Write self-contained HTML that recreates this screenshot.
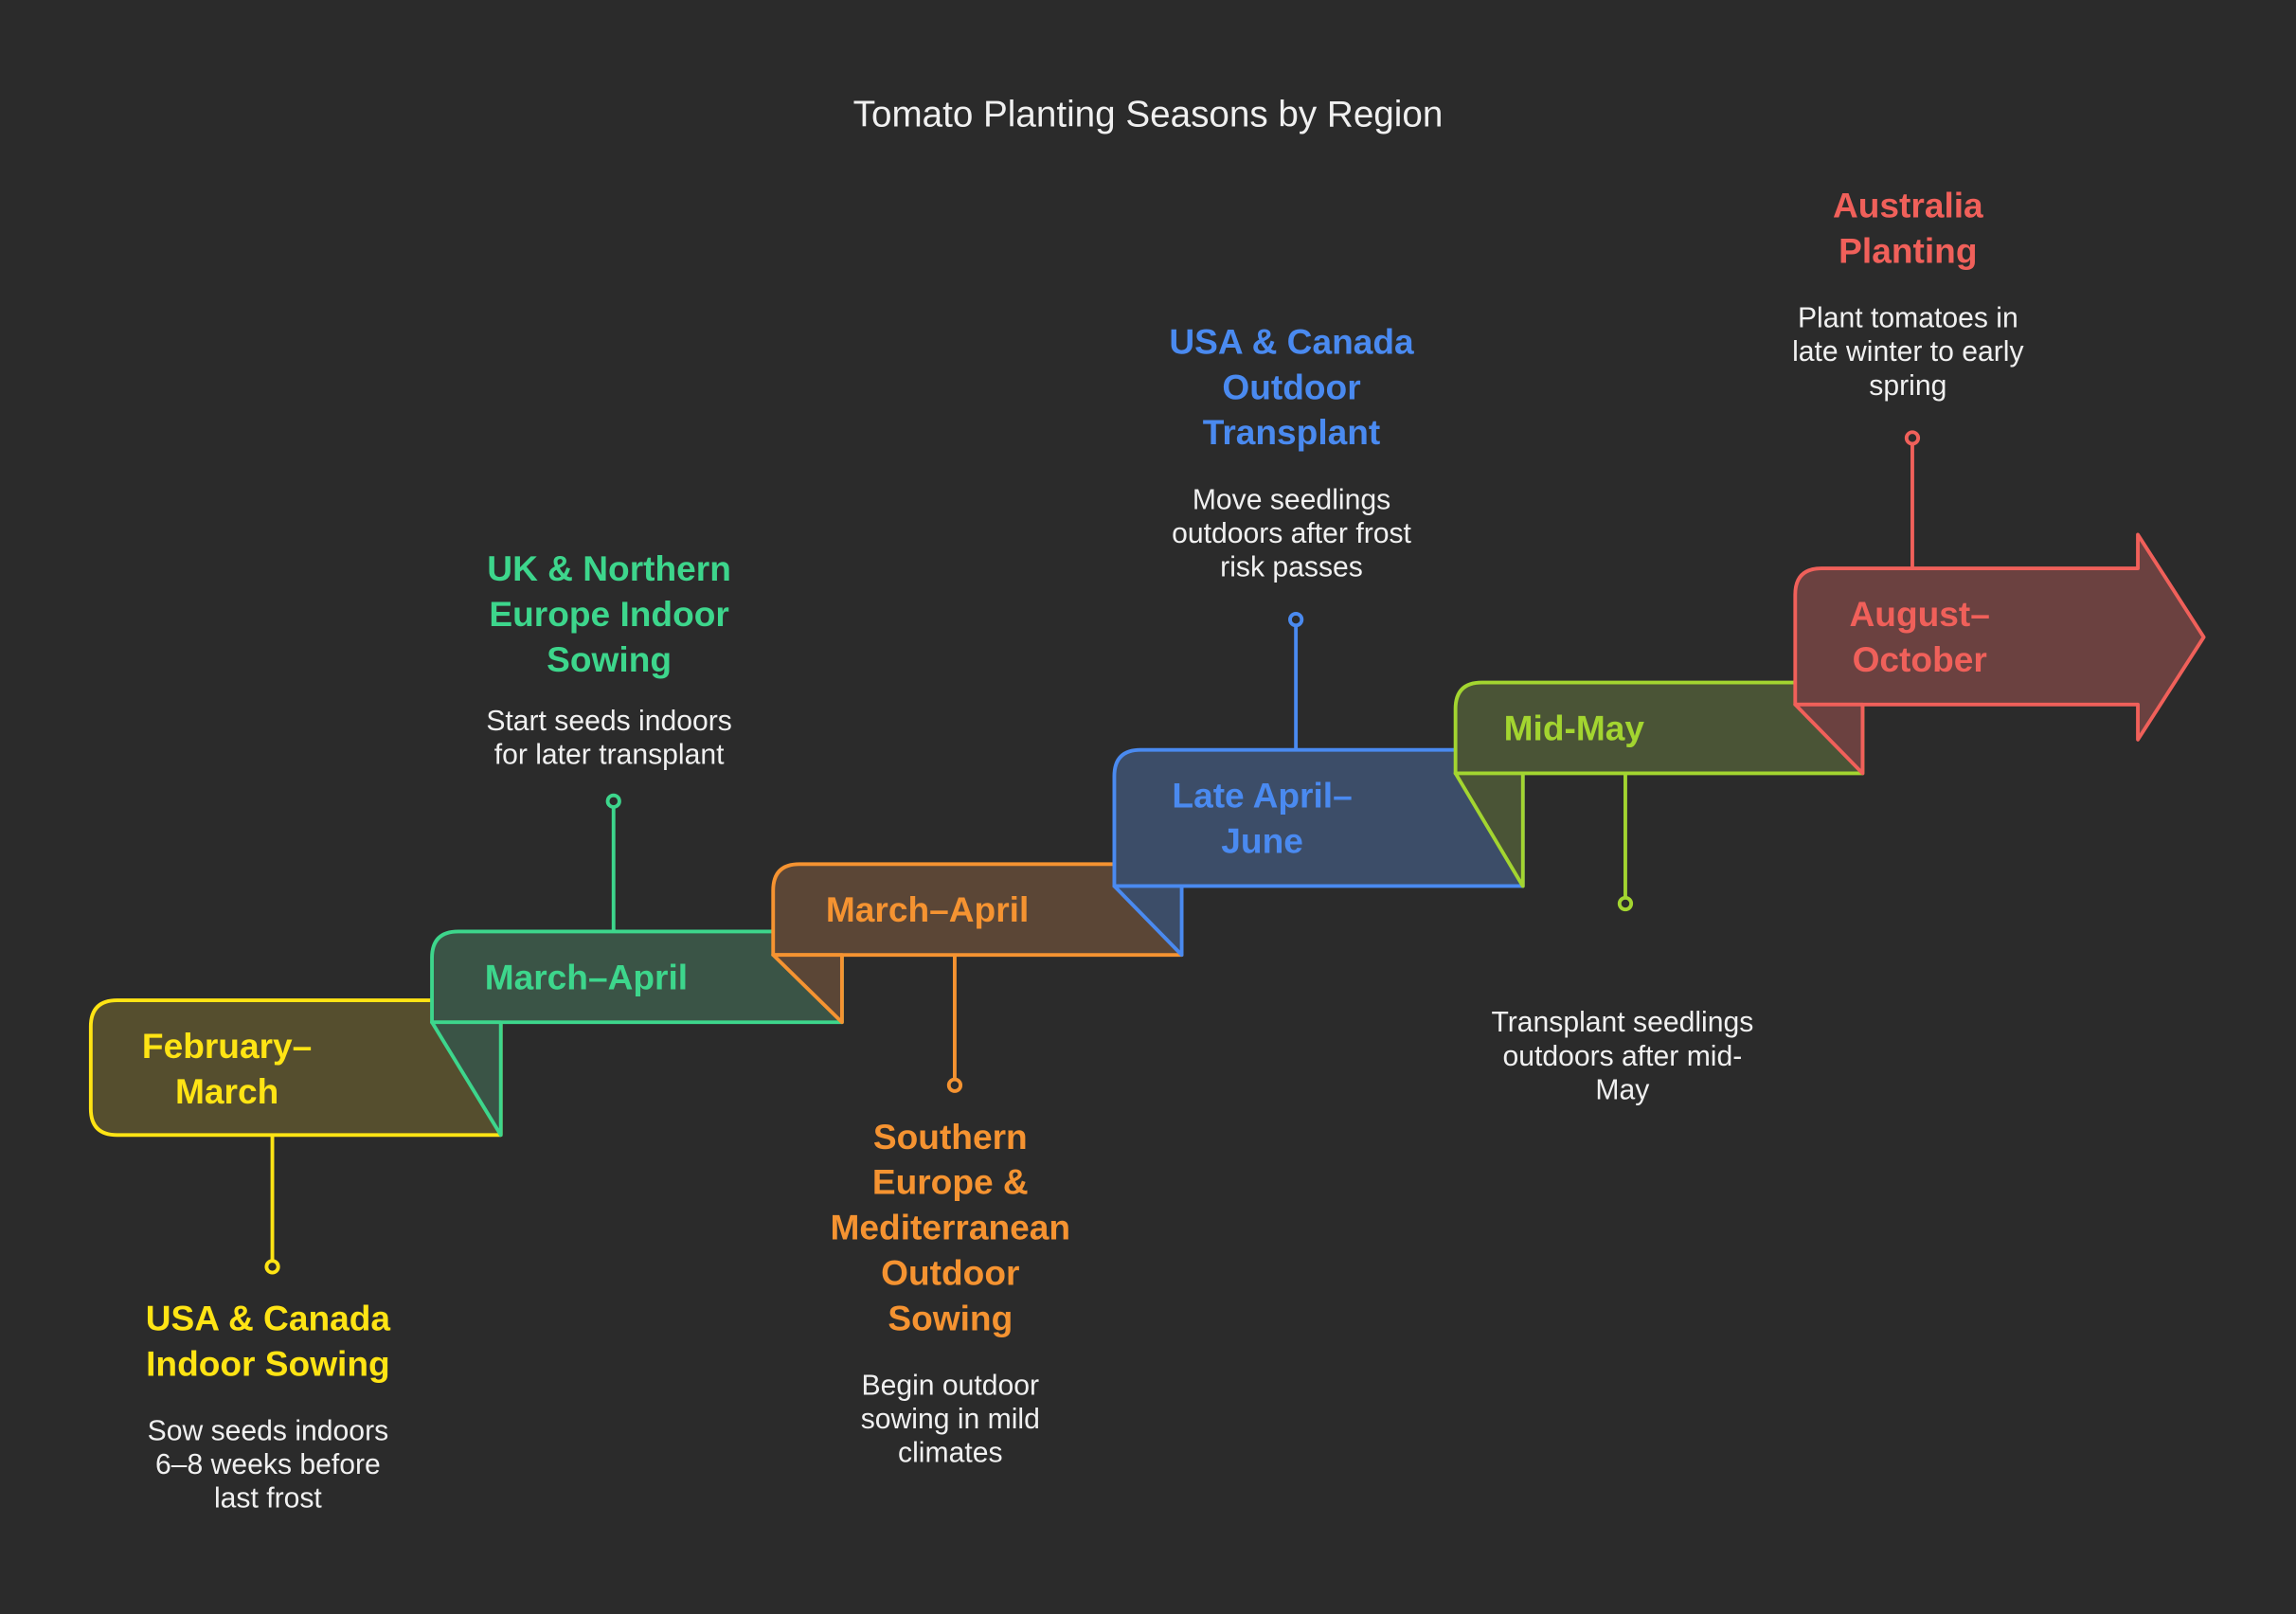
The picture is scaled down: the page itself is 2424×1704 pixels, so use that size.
<!DOCTYPE html>
<html><head><meta charset="utf-8"><style>
html,body{margin:0;padding:0;background:#2b2b2b;}
svg{display:block;}
text{font-family:"Liberation Sans",sans-serif;}
.t{font-weight:bold;font-size:24px;}
.d{font-size:19.5px;fill:#f0f0f0;}
</style></head><body>
<svg width="2424" height="1704" viewBox="0 0 1568 1102" xmlns="http://www.w3.org/2000/svg">
<rect width="1568" height="1102" fill="#2b2b2b"/>
<text x="784" y="78" text-anchor="middle" dominant-baseline="central" font-size="25" fill="#f0f0f0">Tomato Planting Seasons by Region</text>
<g stroke-width="2.5" stroke-linejoin="round">
<path d="M80 683 H342 V775 H80 Q62 775 62 757 V701 Q62 683 80 683Z" fill="#554e2e" stroke="#ffe414"/>
<path d="M313 636 H575 V698 H295 V654 Q295 636 313 636Z" fill="#3a5446" stroke="#3dd68c"/>
<path d="M295 698 H342 V775 Z" fill="#3a5446" stroke="#3dd68c"/>
<path d="M546 590 H807 V652 H528 V608 Q528 590 546 590Z" fill="#5b4636" stroke="#f59331"/>
<path d="M528 652 H575 V698 Z" fill="#5b4636" stroke="#f59331"/>
<path d="M779 512 H1040 V605 H761 V530 Q761 512 779 512Z" fill="#3c4d68" stroke="#4a8af0"/>
<path d="M761 605 H807 V652 Z" fill="#3c4d68" stroke="#4a8af0"/>
<path d="M1012 466 H1272 V528 H994 V484 Q994 466 1012 466Z" fill="#4a5436" stroke="#a3d530"/>
<path d="M994 528 H1040 V605 Z" fill="#4a5436" stroke="#a3d530"/>
<path d="M1244 388 H1460 V365 L1505 435 L1460 505 V481 H1226 V406 Q1226 388 1244 388Z" fill="#6b4140" stroke="#f0605a"/>
<path d="M1226 481 H1272 V528 Z" fill="#6b4140" stroke="#f0605a"/>
</g>
<g stroke-width="2.5" fill="#2b2b2b">
<line x1="186" y1="775" x2="186" y2="861" stroke="#ffe414"/><circle cx="186" cy="865" r="4" stroke="#ffe414"/>
<line x1="419" y1="636" x2="419" y2="551" stroke="#3dd68c"/><circle cx="419" cy="547" r="4" stroke="#3dd68c"/>
<line x1="652" y1="652" x2="652" y2="737" stroke="#f59331"/><circle cx="652" cy="741" r="4" stroke="#f59331"/>
<line x1="885" y1="512" x2="885" y2="427" stroke="#4a8af0"/><circle cx="885" cy="423" r="4" stroke="#4a8af0"/>
<line x1="1110" y1="528" x2="1110" y2="613" stroke="#a3d530"/><circle cx="1110" cy="617" r="4" stroke="#a3d530"/>
<line x1="1306" y1="388" x2="1306" y2="303" stroke="#f0605a"/><circle cx="1306" cy="299" r="4" stroke="#f0605a"/>
</g>
<g dominant-baseline="central">
<text class="t" fill="#ffe414" text-anchor="middle"><tspan x="155" y="714">February–</tspan><tspan x="155" y="745">March</tspan></text>
<text class="t" fill="#3dd68c" x="331" y="667">March–April</text>
<text class="t" fill="#f59331" x="564" y="621">March–April</text>
<text class="t" fill="#4a8af0" text-anchor="middle"><tspan x="862" y="543">Late April–</tspan><tspan x="862" y="574">June</tspan></text>
<text class="t" fill="#a3d530" x="1027" y="497">Mid-May</text>
<text class="t" fill="#f0605a" text-anchor="middle"><tspan x="1311" y="419">August–</tspan><tspan x="1311" y="450">October</tspan></text>

<text class="t" fill="#ffe414" text-anchor="middle"><tspan x="183" y="900">USA &amp; Canada</tspan><tspan x="183" y="931">Indoor Sowing</tspan></text>
<text class="d" text-anchor="middle"><tspan x="183" y="977">Sow seeds indoors</tspan><tspan x="183" y="1000">6–8 weeks before</tspan><tspan x="183" y="1023">last frost</tspan></text>

<text class="t" fill="#3dd68c" text-anchor="middle"><tspan x="416" y="388">UK &amp; Northern</tspan><tspan x="416" y="419">Europe Indoor</tspan><tspan x="416" y="450">Sowing</tspan></text>
<text class="d" text-anchor="middle"><tspan x="416" y="492">Start seeds indoors</tspan><tspan x="416" y="515">for later transplant</tspan></text>

<text class="t" fill="#f59331" text-anchor="middle"><tspan x="649" y="776">Southern</tspan><tspan x="649" y="807">Europe &amp;</tspan><tspan x="649" y="838">Mediterranean</tspan><tspan x="649" y="869">Outdoor</tspan><tspan x="649" y="900">Sowing</tspan></text>
<text class="d" text-anchor="middle"><tspan x="649" y="946">Begin outdoor</tspan><tspan x="649" y="969">sowing in mild</tspan><tspan x="649" y="992">climates</tspan></text>

<text class="t" fill="#4a8af0" text-anchor="middle"><tspan x="882" y="233">USA &amp; Canada</tspan><tspan x="882" y="264">Outdoor</tspan><tspan x="882" y="295">Transplant</tspan></text>
<text class="d" text-anchor="middle"><tspan x="882" y="341">Move seedlings</tspan><tspan x="882" y="364">outdoors after frost</tspan><tspan x="882" y="387">risk passes</tspan></text>

<text class="d" text-anchor="middle"><tspan x="1108" y="698">Transplant seedlings</tspan><tspan x="1108" y="721">outdoors after mid-</tspan><tspan x="1108" y="744">May</tspan></text>

<text class="t" fill="#f0605a" text-anchor="middle"><tspan x="1303" y="140">Australia</tspan><tspan x="1303" y="171">Planting</tspan></text>
<text class="d" text-anchor="middle"><tspan x="1303" y="217">Plant tomatoes in</tspan><tspan x="1303" y="240">late winter to early</tspan><tspan x="1303" y="263">spring</tspan></text>
</g>
</svg>
</body></html>
